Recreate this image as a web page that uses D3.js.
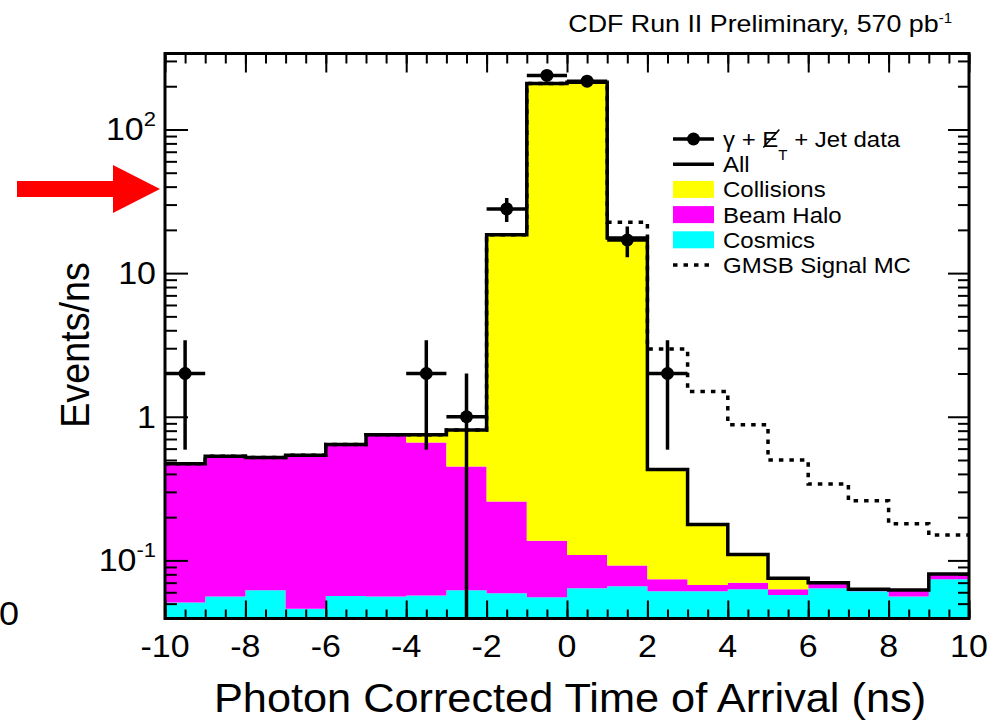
<!DOCTYPE html>
<html><head><meta charset="utf-8">
<script src="https://cdn.jsdelivr.net/npm/d3@7"></script>
<style>
body{margin:0;background:#fff}
svg text{font-family:"Liberation Sans",Arial,Helvetica,sans-serif;fill:#000}
</style>
</head><body>
<svg id="c" width="1007" height="723"></svg>
<script>
// ---------------- data ----------------
const binEdges = [-10,-9,-8,-7,-6,-5,-4,-3,-2,-1,0,1,2,3,4,5,6,7,8,9,10];
const cosmics   = [0.051,0.056,0.062,0.046,0.0565,0.056,0.057,0.062,0.059,0.0555,0.064,0.066,0.061,0.061,0.063,0.0575,0.064,0.061,0.056,0.074];
const beamHalo  = [0.419,0.474,0.458,0.494,0.584,0.694,0.605,0.388,0.198,0.0815,0.045,0.026,0.013,0.0065,0.007,0.0055,0.0044,0.001,0.0063,0.005];
const collisions= [0,0,0,0,0,0,0.088,0.36,18.24,208.9,212.9,17.5,0.356,0.11,0.040,0.012,0.0016,0.001,0,0.0015];
const gmsbSignal= [0.47,0.53,0.52,0.54,0.64,0.75,0.75,0.81,18.5,209,213,22.6,2.96,1.50,0.88,0.50,0.34,0.26,0.18,0.15];
const dataX   = [-9.5,-3.5,-2.5,-1.5,-0.5,0.5,1.5,2.5];
const dataY   = [2,2,1,28,238,217,17,2];
const dataErr = [1.41,1.41,1.0,5.3,15.4,14.7,4.1,1.41];
const xTickValues = [-10,-8,-6,-4,-2,0,2,4,6,8,10];
const xTickLabels = ["-10","-8","-6","-4","-2","0","2","4","6","8","10"];
const yTickValues = [0.1,1,10,100];
const yTickBase   = ["10","1","10","10"];
const yTickSup    = ["-1","","","2"];
const legendLabels = ["data","All","Collisions","Beam Halo","Cosmics","GMSB Signal MC"];
const titleText = "CDF Run II Preliminary, 570 pb";
const titleSup = "-1";
const xTitle = "Photon Corrected Time of Arrival (ns)";
const yTitle = "Events/ns";

// ---------------- layout ----------------
const SY = 0.92;
const frame = {l:165, r:969, t:53.5, b:618.5};
const svg = d3.select("#c");
const x = d3.scaleLinear().domain([-10,10]).range([frame.l, frame.r]);
const y = d3.scaleLog().domain([0.0394, 338]).range([frame.b, frame.t]);
const yy = v => v > 0 ? Math.min(frame.b, Math.max(frame.t, y(v))) : frame.b;

svg.append("defs").append("clipPath").attr("id","clip")
  .append("rect").attr("x",frame.l).attr("y",frame.t)
  .attr("width",frame.r-frame.l).attr("height",frame.b-frame.t);

// stacked histogram
const nb = collisions.length;
const rows = binEdges.slice(0,-1).map((lo,i)=>({lo, cosmics:cosmics[i], halo:beamHalo[i], coll:collisions[i]}));
const layers = d3.stack().keys(["cosmics","halo","coll"])(rows);
const colors = {cosmics:"#00ffff", halo:"#ff00ff", coll:"#ffff00"};
const stepPts = arr => { const p = arr.map((d,i)=>({x:binEdges[i], y0:d[0], y1:d[1]})); p.push({x:binEdges[nb], y0:arr[nb-1][0], y1:arr[nb-1][1]}); return p; };
const area = d3.area().curve(d3.curveStepAfter).x(p=>x(p.x)).y0(p=>yy(p.y0)).y1(p=>yy(p.y1));
const plot = svg.append("g").attr("clip-path","url(#clip)");
layers.forEach(L=>{
  plot.append("path").attr("d", area(stepPts(L))).attr("fill", colors[L.key]).attr("stroke","none");
});
// total "All" line
const totals = layers[2].map(d=>d[1]);
const line = d3.line().curve(d3.curveStepAfter).x(p=>x(p.x)).y(p=>yy(p.v));
const linePts = vals => { const p = vals.map((v,i)=>({x:binEdges[i], v})); p.push({x:binEdges[nb], v:vals[nb-1]}); return p; };
plot.append("path").attr("d", line(linePts(totals))).attr("fill","none").attr("stroke","#000").attr("stroke-width",3.5);
// GMSB dotted
plot.append("path").attr("d", line(linePts(gmsbSignal))).attr("fill","none").attr("stroke","#000")
  .attr("stroke-width",3.5).attr("stroke-dasharray","4.5,6");

// data points
const dg = svg.append("g").attr("clip-path","url(#clip)");
dataX.forEach((cx,i)=>{
  const v = dataY[i], e = dataErr[i];
  dg.append("line").attr("x1",x(cx)).attr("x2",x(cx)).attr("y1",yy(v+e)).attr("y2",yy(v-e))
    .attr("stroke","#000").attr("stroke-width",3.5);
  dg.append("line").attr("x1",x(cx-0.5)).attr("x2",x(cx+0.5)).attr("y1",yy(v)).attr("y2",yy(v))
    .attr("stroke","#000").attr("stroke-width",3.5);
  dg.append("circle").attr("cx",x(cx)).attr("cy",yy(v)).attr("r",6.5).attr("fill","#000");
});

// ---------------- axes ----------------
const tickStyle = g => { g.select(".domain").remove(); g.selectAll("line").attr("stroke","#000").attr("stroke-width",2); g.selectAll("text").remove(); };
const xMinor = d3.range(-10, 10.001, 0.5);
svg.append("g").attr("transform",`translate(0,${frame.b})`).call(d3.axisBottom(x).tickValues(xMinor).tickSize(-9).tickFormat("")).call(tickStyle);
svg.append("g").attr("transform",`translate(0,${frame.b})`).call(d3.axisBottom(x).tickValues(xTickValues).tickSize(-18).tickFormat("")).call(tickStyle);
svg.append("g").attr("transform",`translate(0,${frame.t})`).call(d3.axisTop(x).tickValues(xMinor).tickSize(-10).tickFormat("")).call(tickStyle);
svg.append("g").attr("transform",`translate(0,${frame.t})`).call(d3.axisTop(x).tickValues(xTickValues).tickSize(-19).tickFormat("")).call(tickStyle);
const yMinor = y.ticks().filter(v => Math.abs(Math.log10(v) - Math.round(Math.log10(v))) > 1e-6);
svg.append("g").attr("transform",`translate(${frame.l},0)`).call(d3.axisLeft(y).tickValues(yMinor).tickSize(-12).tickFormat("")).call(tickStyle);
svg.append("g").attr("transform",`translate(${frame.l},0)`).call(d3.axisLeft(y).tickValues(yTickValues).tickSize(-23).tickFormat("")).call(tickStyle);
svg.append("g").attr("transform",`translate(${frame.r},0)`).call(d3.axisRight(y).tickValues(yMinor).tickSize(-11).tickFormat("")).call(tickStyle);
svg.append("g").attr("transform",`translate(${frame.r},0)`).call(d3.axisRight(y).tickValues(yTickValues).tickSize(-21).tickFormat("")).call(tickStyle);

// frame
svg.append("rect").attr("x",frame.l).attr("y",frame.t).attr("width",frame.r-frame.l).attr("height",frame.b-frame.t)
  .attr("fill","none").attr("stroke","#000").attr("stroke-width",3);

// text helper
function txt(px, py, size, anchor, sy){
  return svg.append("g").attr("transform",`translate(${px},${py}) scale(1,${sy})`)
    .append("text").attr("font-size",size).attr("text-anchor",anchor);
}
// x tick labels
xTickValues.forEach((v,i)=>{ txt(x(v), 657, 34, "middle", SY).text(xTickLabels[i]); });
// y tick labels
yTickValues.forEach((v,i)=>{
  const t = txt(156, y(v)+11, 34, "end", SY);
  t.append("tspan").text(yTickBase[i]);
  if (yTickSup[i]) t.append("tspan").attr("font-size",22).attr("dy",-16).text(yTickSup[i]);
});
// partial label at far left
txt(-1, 625, 36, "start", SY).text("0");

// axis titles
txt(570, 712, 43.3, "middle", SY).text(xTitle);
svg.append("g").attr("transform","translate(89,345) rotate(-90) scale(0.92,1)")
  .append("text").attr("font-size",41).attr("text-anchor","middle").text(yTitle);

// title
const tt = txt(952, 32, 26.8, "end", SY);
tt.append("tspan").text(titleText);
tt.append("tspan").attr("font-size",15).attr("dy",-10).text(titleSup);

// ---------------- legend ----------------
const lgX0 = 673, lgX1 = 714, lgTx = 723;
legendLabels.forEach((lab,i)=>{
  const yc = 139 + i*25.2;
  const g = svg.append("g");
  if (i===0){
    g.append("line").attr("x1",lgX0).attr("x2",lgX1).attr("y1",yc).attr("y2",yc).attr("stroke","#000").attr("stroke-width",3.5);
    g.append("circle").attr("cx",(lgX0+lgX1)/2).attr("cy",yc).attr("r",6.5).attr("fill","#000");
    const tg = svg.append("g").attr("transform",`translate(${lgTx},${yc+8}) scale(1,${SY})`);
    const t = tg.append("text").attr("font-size",24);
    t.append("tspan").text("\u03b3 + ");
    t.append("tspan").text("E");
    t.append("tspan").attr("font-size",15).attr("dy",14).text("T");
    t.append("tspan").attr("dy",-14).text(" + Jet data");
    const ext = t.node().getExtentOfChar(4);
    tg.append("line").attr("x1",ext.x+1).attr("y1",0.5).attr("x2",ext.x+ext.width+1).attr("y2",-19)
      .attr("stroke","#000").attr("stroke-width",1.6);
  } else {
    if (i===1) g.append("line").attr("x1",lgX0).attr("x2",lgX1).attr("y1",yc).attr("y2",yc).attr("stroke","#000").attr("stroke-width",3.5);
    if (i>=2 && i<=4) g.append("rect").attr("x",lgX0).attr("y",yc-8.5).attr("width",lgX1-lgX0).attr("height",17)
      .attr("fill",[colors.coll,colors.halo,colors.cosmics][i-2]);
    if (i===5) g.append("line").attr("x1",lgX0).attr("x2",lgX1).attr("y1",yc).attr("y2",yc).attr("stroke","#000")
      .attr("stroke-width",3.5).attr("stroke-dasharray","4.5,6");
    txt(lgTx, yc+8, 24, "start", SY).text(lab);
  }
});

// ---------------- red arrow annotation ----------------
svg.append("polygon")
  .attr("points","17,181 113,181 113,165 160,189 113,213 113,197 17,197")
  .attr("fill","#ff0000");
</script>
</body></html>
